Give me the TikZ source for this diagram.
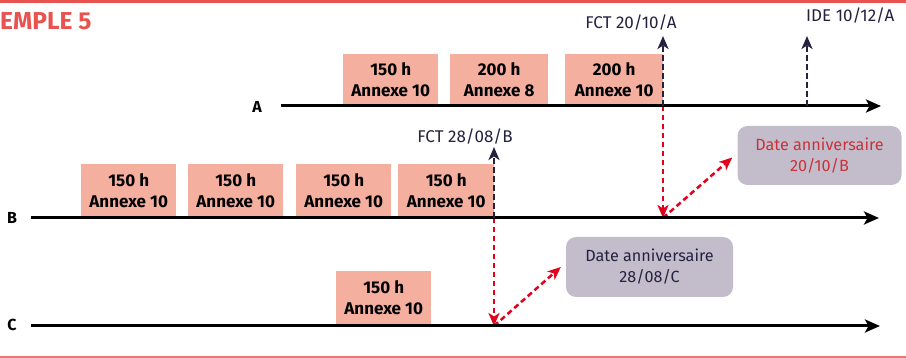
\documentclass[tikz,border=0pt]{standalone}
\usepackage{fontspec}
\setmainfont{Fira Sans}
\usetikzlibrary{arrows.meta}
\definecolor{salmon}{HTML}{F4AF9F}
\definecolor{lav}{HTML}{C3BDCB}
\definecolor{titred}{HTML}{E8524F}
\definecolor{navy}{HTML}{24223F}
\definecolor{arrred}{HTML}{E2001A}
\definecolor{annred}{HTML}{C8323A}
\tikzset{
  hbox/.style={fill=salmon, inner sep=0pt, minimum width=95pt, minimum height=52pt, align=center,
    font=\bfseries\fontsize{17}{21}\selectfont, text=black},
  datebox/.style={fill=lav, rounded corners=10pt, inner sep=0pt, minimum width=164pt, minimum height=59pt,
    align=center, font=\fontsize{16.2}{21}\selectfont},
  axis/.style={line width=3pt, black, -{Stealth[length=15pt,width=13pt,inset=3.5pt]}},
  navyarr/.style={line width=2.5pt, navy, dash pattern=on 5.5pt off 3.5pt, -{Stealth[length=13pt,width=11pt,inset=3.5pt]}},
  redarr/.style={line width=2.5pt, arrred, dash pattern=on 5.5pt off 3.5pt, -{Stealth[length=13pt,width=11pt,inset=3.5pt]}},
  evlab/.style={font=\fontsize{17}{20}\selectfont, text=navy, inner sep=0pt},
  linelab/.style={font=\bfseries\fontsize{16}{18}\selectfont, inner sep=0pt},
}
\begin{document}
\begin{tikzpicture}[x=1pt,y=-1pt]
\useasboundingbox (0,0) rectangle (906,358);
% frame lines
\coordinate (tl) at (0,1.5); \coordinate (tr) at (906,1.5);
\coordinate (bl) at (0,357); \coordinate (br) at (906,357);
\draw[titred, line width=3pt] (tl) -- (tr);
\draw[titred!80, line width=1.5pt] (bl) -- (br);
\node[anchor=west, inner sep=0pt, text=titred, font=\bfseries\fontsize{24.5}{28}\selectfont] (title) at (0,21) {EMPLE 5};

% line A
\coordinate (As) at (281,106); \coordinate (Ae) at (881,106);
\node[linelab] (labA) at (257,107) {A};
\node[hbox, anchor=south west] (a1) at (343,106) {150 h\\Annexe 10};
\node[hbox, anchor=south west, minimum width=98pt] (a2) at (450,106) {200 h\\Annexe 8};
\node[hbox, anchor=south west, minimum width=98pt] (a3) at (565,106) {200 h\\Annexe 10};

% line B
\coordinate (Bs) at (31,218); \coordinate (Be) at (879,218);
\node[linelab] (labB) at (12,218) {B};
\node[hbox, anchor=south west, minimum height=54pt] (b1) at (81,218) {150 h\\Annexe 10};
\node[hbox, anchor=south west, minimum height=54pt] (b2) at (188,218) {150 h\\Annexe 10};
\node[hbox, anchor=south west, minimum height=54pt] (b3) at (296,218) {150 h\\Annexe 10};
\node[hbox, anchor=south west, minimum height=54pt, minimum width=96pt] (b4) at (398,218) {150 h\\Annexe 10};

% line C
\coordinate (Cs) at (31,326); \coordinate (Ce) at (880,326);
\node[linelab] (labC) at (12,325) {C};
\node[hbox, anchor=south west, minimum height=53pt] (c1) at (336,324) {150 h\\Annexe 10};

% date boxes
\node[datebox, text=annred] (dB) at (819.5,155.5) {Date anniversaire\\20/10/B};
\node[datebox, text=navy, minimum width=167pt, minimum height=60pt] (dC) at (649.5,267) {Date anniversaire\\28/08/C};

% event points
\coordinate (fctA) at (663,106); \coordinate (fctAtop) at (663,36);
\coordinate (ideA) at (807,106); \coordinate (ideAtop) at (807,36);
\coordinate (fctB) at (494,218); \coordinate (fctBtop) at (494,147);
\coordinate (annB) at (663,218);
\coordinate (annC) at (494,326);

\node[evlab, anchor=base] (fctAlab) at (631,29) {FCT 20/10/A};
\node[evlab, anchor=base west] (ideAlab) at (806,22) {IDE 10/12/A};
\node[evlab, anchor=base] (fctBlab) at (465,143) {FCT 28/08/B};

% red dashed arrows
\draw[redarr] (fctA) -- (annB);
\draw[redarr] (annB) -- ([xshift=-5pt,yshift=-2pt]dB.west);
\draw[redarr] (fctB) -- (annC);
\draw[redarr] (annC) -- ([xshift=-5pt]dC.west);

% axes
\draw[axis] (As) -- (Ae);
\draw[axis] (Bs) -- (Be);
\draw[axis] (Cs) -- (Ce);

% navy dashed arrows
\draw[navyarr] (fctA) -- (fctAtop);
\draw[navyarr] (ideA) -- (ideAtop);
\draw[navyarr] (fctB) -- (fctBtop);
\end{tikzpicture}
\end{document}
